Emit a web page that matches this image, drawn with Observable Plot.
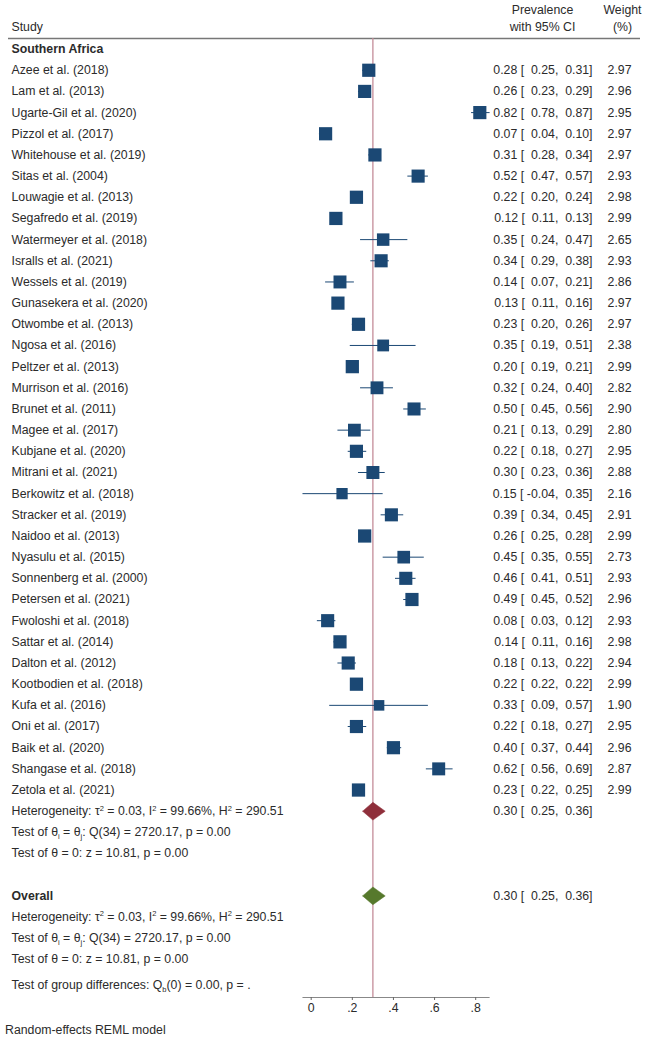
<!DOCTYPE html>
<html><head><meta charset="utf-8">
<script src="https://cdn.jsdelivr.net/npm/d3@7"></script>
<script src="https://cdn.jsdelivr.net/npm/@observablehq/plot@0.6"></script>
<style>
body{margin:0;background:#fff;font-family:"Liberation Sans",Arial,sans-serif;}
svg{display:block;}
svg text{white-space:pre;}
#caption{font-size:12.3px;color:#2b2b2b;padding-left:5px;line-height:16px;margin-top:2px;}
</style></head><body>
<div id="chart"></div>
<div id="caption">Random-effects REML model</div>
<script>
const groupName = "Southern Africa";
const studies = ["Azee et al. (2018)","Lam et al. (2013)","Ugarte-Gil et al. (2020)","Pizzol et al. (2017)","Whitehouse et al. (2019)","Sitas et al. (2004)","Louwagie et al. (2013)","Segafredo et al. (2019)","Watermeyer et al. (2018)","Isralls et al. (2021)","Wessels et al. (2019)","Gunasekera et al. (2020)","Otwombe et al. (2013)","Ngosa et al. (2016)","Peltzer et al. (2013)","Murrison et al. (2016)","Brunet et al. (2011)","Magee et al. (2017)","Kubjane et al. (2020)","Mitrani et al. (2021)","Berkowitz et al. (2018)","Stracker et al. (2019)","Naidoo et al. (2013)","Nyasulu et al. (2015)","Sonnenberg et al. (2000)","Petersen et al. (2021)","Fwoloshi et al. (2018)","Sattar et al. (2014)","Dalton et al. (2012)","Kootbodien et al. (2018)","Kufa et al. (2016)","Oni et al. (2017)","Baik et al. (2020)","Shangase et al. (2018)","Zetola et al. (2021)"];
const est = [0.28,0.26,0.82,0.07,0.31,0.52,0.22,0.12,0.35,0.34,0.14,0.13,0.23,0.35,0.20,0.32,0.50,0.21,0.22,0.30,0.15,0.39,0.26,0.45,0.46,0.49,0.08,0.14,0.18,0.22,0.33,0.22,0.40,0.62,0.23];
const lo = [0.25,0.23,0.78,0.04,0.28,0.47,0.20,0.11,0.24,0.29,0.07,0.11,0.20,0.19,0.19,0.24,0.45,0.13,0.18,0.23,-0.04,0.34,0.25,0.35,0.41,0.45,0.03,0.11,0.13,0.22,0.09,0.18,0.37,0.56,0.22];
const hi = [0.31,0.29,0.87,0.10,0.34,0.57,0.24,0.13,0.47,0.38,0.21,0.16,0.26,0.51,0.21,0.40,0.56,0.29,0.27,0.36,0.35,0.45,0.28,0.55,0.51,0.52,0.12,0.16,0.22,0.22,0.57,0.27,0.44,0.69,0.25];
const weight = [2.97,2.96,2.95,2.97,2.97,2.93,2.98,2.99,2.65,2.93,2.86,2.97,2.97,2.38,2.99,2.82,2.90,2.80,2.95,2.88,2.16,2.91,2.99,2.73,2.93,2.96,2.93,2.98,2.94,2.99,1.90,2.95,2.96,2.87,2.99];
const pooledLabels = ["Southern Africa subgroup","Overall"];
const pooledEst = [0.30, 0.30];
const pooledLo = [0.25, 0.25];
const pooledHi = [0.36, 0.36];
const hetText = "Heterogeneity: τ^2 = 0.03, I^2 = 99.66%, H^2 = 290.51";
const testHomText = "Test of θ_i = θ_j: Q(34) = 2720.17, p = 0.00";
const testZeroText = "Test of θ = 0: z = 10.81, p = 0.00";
const groupDiffText = "Test of group differences: Q_b(0) = 0.00, p = .";
const xTicks = [0, 0.2, 0.4, 0.6, 0.8];

const navy = "#1b4874", maroon = "#8f2f3b", green = "#56792c", refColor = "#c48d99", textColor = "#2b2b2b";
const FS = 12.3;

const studyRows = studies.map((s, i) => ({label: s, row: i + 1, est: est[i], lo: lo[i], hi: hi[i], w: weight[i]}));
const n = studies.length;
const pooledRows = [
  {row: n + 1, est: pooledEst[0], lo: pooledLo[0], hi: pooledHi[0], color: maroon},
  {row: n + 5, est: pooledEst[1], lo: pooledLo[1], hi: pooledHi[1], color: green}
];
const plainRows = [
  ...studyRows.map(d => ({label: d.label, row: d.row})),
  {label: hetText, row: n + 1}, {label: testHomText, row: n + 2}, {label: testZeroText, row: n + 3},
  {label: hetText, row: n + 6}, {label: testHomText, row: n + 7}, {label: testZeroText, row: n + 8},
  {label: groupDiffText, row: n + 9.2}
];
const boldRows = [{label: groupName, row: 0}, {label: "Overall", row: n + 5}];
const axisRow = n + 9.8;

const fmt = v => v.toFixed(2);
const ciText = d => `${fmt(d.est)} [${fmt(d.lo).padStart(6)},${fmt(d.hi).padStart(6)}]`;

const h = 0.42;
const diamond = p => [
  {x: p.lo, y: p.row}, {x: p.est, y: p.row - h}, {x: p.hi, y: p.row}, {x: p.est, y: p.row + h}, {x: p.lo, y: p.row}
];

const W = 647, H = 1020;
const plot = Plot.plot({
  width: W, height: H,
  marginTop: 38, marginBottom: 23, marginLeft: 0, marginRight: 0,
  style: {fontFamily: '"Liberation Sans", Arial, sans-serif', fontSize: FS + "px", color: textColor, background: "#fff"},
  x: {domain: [0, 0.8], range: [310.7, 475.2]},
  y: {domain: [-0.5, axisRow], range: [38, 997], axis: null},
  r: {type: "sqrt", domain: [0, 2.97], range: [0, 7.45]},
  marks: [
    Plot.ruleY([-0.5], {stroke: "#777", strokeWidth: 1.5, insetLeft: 8, insetRight: 7}),
    Plot.ruleX([pooledEst[1]], {y1: -0.5, y2: axisRow, stroke: refColor, strokeWidth: 1.3}),
    Plot.ruleY(studyRows, {y: "row", x1: "lo", x2: "hi", stroke: navy, strokeWidth: 1}),
    Plot.dot(studyRows, {x: "est", y: "row", r: "w", symbol: "square", fill: navy, stroke: "none"}),
    ...pooledRows.map(p => Plot.line(diamond(p), {x: "x", y: "y", fill: p.color, stroke: p.color, strokeWidth: 0.5})),
    Plot.ruleY([axisRow], {x1: d3.min(lo), x2: d3.max(hi), stroke: "#888", strokeWidth: 1}),
    Plot.axisX({ticks: xTicks, tickSize: 3, tickPadding: 3, stroke: "#666", fill: textColor, fontSize: FS,
      tickFormat: d => d === 0 ? "0" : String(d).replace(/^0/, "")}),
    // headers
    Plot.text([{t: "Study", row: -1.05}], {y: "row", text: "t", frameAnchor: "left", textAnchor: "start", dx: 11, fill: textColor, fontSize: FS}),
    Plot.text([{t: "Prevalence", row: -1.83}, {t: "with 95% CI", row: -1.05}], {y: "row", text: "t", frameAnchor: "right", textAnchor: "middle", dx: -105, fill: textColor, fontSize: FS}),
    Plot.text([{t: "Weight", row: -1.83}, {t: "(%)", row: -1.05}], {y: "row", text: "t", frameAnchor: "right", textAnchor: "middle", dx: -25, fill: textColor, fontSize: FS}),
    // left labels
    Plot.text(plainRows, {y: "row", text: "label", frameAnchor: "left", textAnchor: "start", dx: 11, fill: textColor, fontSize: FS}),
    Plot.text(boldRows, {y: "row", text: "label", frameAnchor: "left", textAnchor: "start", dx: 11, fill: textColor, fontSize: FS, fontWeight: "bold"}),
    // right columns
    Plot.text([...studyRows, ...pooledRows], {y: "row", text: ciText, frameAnchor: "right", textAnchor: "end", dx: -55, fill: textColor, fontSize: FS}),
    Plot.text(studyRows, {y: "row", text: d => fmt(d.w), frameAnchor: "right", textAnchor: "end", dx: -16, fill: textColor, fontSize: FS})
  ]
});

// superscripts / subscripts as real tspans
const NS = "http://www.w3.org/2000/svg";
plot.querySelectorAll("text").forEach(t => {
  const s = t.textContent;
  if (!/[\^_]\w/.test(s)) return;
  t.textContent = "";
  let cur = 0;
  s.split(/([\^_]\w)/).forEach(p => {
    if (!p) return;
    const ts = document.createElementNS(NS, "tspan");
    let target = 0, txt = p;
    if (/^[\^_]\w$/.test(p)) {
      target = p[0] === "^" ? -4.5 : 3;
      txt = p[1];
      ts.setAttribute("font-size", "7.5");
    }
    if (target !== cur) ts.setAttribute("dy", target - cur);
    cur = target;
    ts.textContent = txt;
    t.appendChild(ts);
  });
});

document.getElementById("chart").appendChild(plot);
</script>
</body></html>
